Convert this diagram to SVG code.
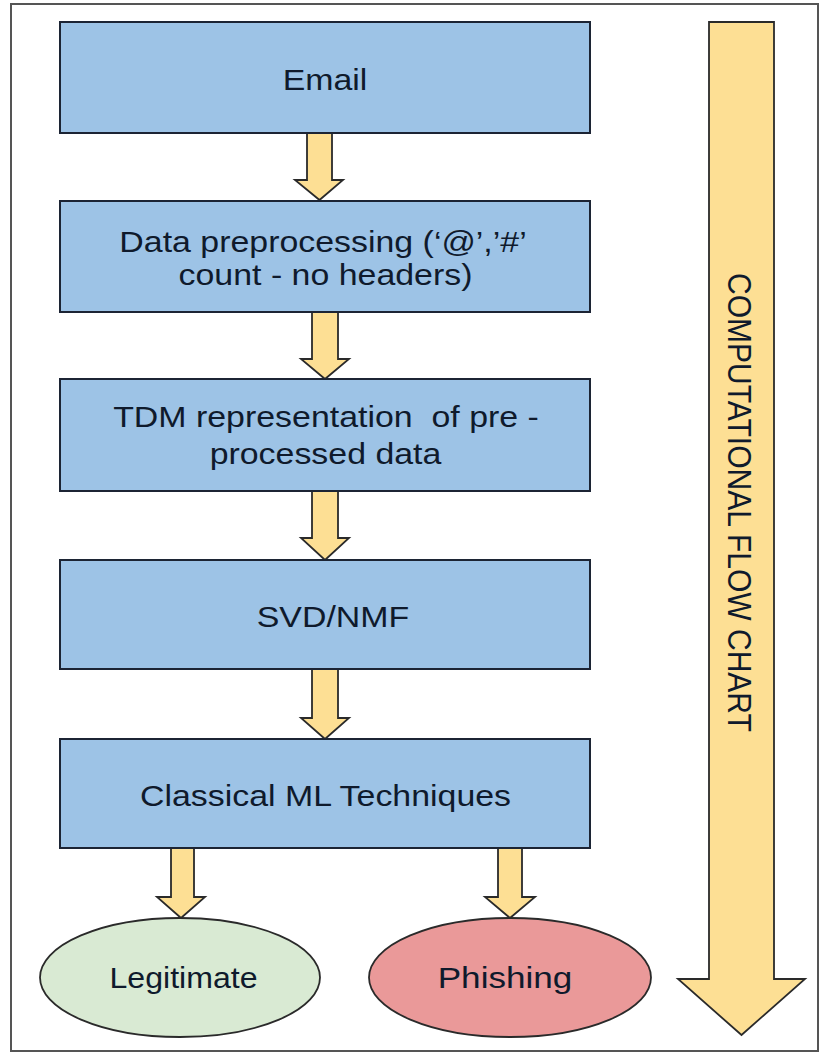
<svg xmlns="http://www.w3.org/2000/svg" width="823" height="1054" viewBox="0 0 823 1054">
<style>
.box{fill:#9dc3e6;stroke:#1c2434;stroke-width:2}
.arr{fill:#fddf94;stroke:#2a2a2a;stroke-width:1.8;stroke-linejoin:miter}
.t{font-family:"Liberation Sans",Arial,sans-serif;font-size:30px;fill:#0f1a2c;text-anchor:middle}
.frame{fill:#ffffff;stroke:#555555;stroke-width:2}
</style>
<rect class="frame" x="11" y="4" width="807" height="1047"/>
<g id="connectors">
<polygon class="arr" points="307,133 332,133 332,180 343,180 319.5,200 295,180 307,180"/>
<polygon class="arr" points="312,312 338,312 338,359 349,359 325,379 301,359 312,359"/>
<polygon class="arr" points="312,491 338,491 338,538 349,538 325,560 301,538 312,538"/>
<polygon class="arr" points="312,669 338,669 338,718 349,718 325,739 301,718 312,718"/>
<polygon class="arr" points="171,848 194,848 194,897 205,897 181,918 157,897 171,897"/>
<polygon class="arr" points="498,848 522,848 522,897 535,897 510,918 485,897 498,897"/>
</g>
<g id="flow-arrow">
<polygon class="arr" points="709,22 774,22 774,979 805,979 741.5,1035 678,979 709,979"/>
<text class="t" style="text-anchor:start" font-size="29.5" transform="translate(728,273) scale(1.13,1) rotate(90)">COMPUTATIONAL FLOW CHART</text>
</g>
<g id="email">
<rect class="box" x="60" y="22" width="530" height="111"/>
<text class="t" transform="translate(325,90) scale(1.13,1)">Email</text>
</g>
<g id="preprocessing">
<rect class="box" x="60" y="201" width="530" height="111"/>
<text class="t" transform="translate(323,252) scale(1.13,1)">Data preprocessing (‘@’,’#’</text>
<text class="t" transform="translate(325.5,285) scale(1.13,1)">count - no headers)</text>
</g>
<g id="tdm">
<rect class="box" x="60" y="379" width="530" height="112"/>
<text class="t" xml:space="preserve" transform="translate(326,427) scale(1.13,1)">TDM representation  of pre -</text>
<text class="t" transform="translate(325.5,464) scale(1.13,1)">processed data</text>
</g>
<g id="svd">
<rect class="box" x="60" y="560" width="530" height="109"/>
<text class="t" transform="translate(333,627) scale(1.13,1)">SVD/NMF</text>
</g>
<g id="classical">
<rect class="box" x="60" y="739" width="530" height="109"/>
<text class="t" transform="translate(325.5,806) scale(1.13,1)">Classical ML Techniques</text>
</g>
<g id="legitimate">
<ellipse cx="180" cy="977.5" rx="140" ry="59.5" fill="#d9ead3" stroke="#2a2a2a" stroke-width="1.8"/>
<text class="t" transform="translate(183.5,988) scale(1.07,1)">Legitimate</text>
</g>
<g id="phishing">
<ellipse cx="510" cy="977.5" rx="141" ry="59.5" fill="#ea9999" stroke="#2a2a2a" stroke-width="1.8"/>
<text class="t" transform="translate(505,988) scale(1.17,1)">Phishing</text>
</g>
</svg>
